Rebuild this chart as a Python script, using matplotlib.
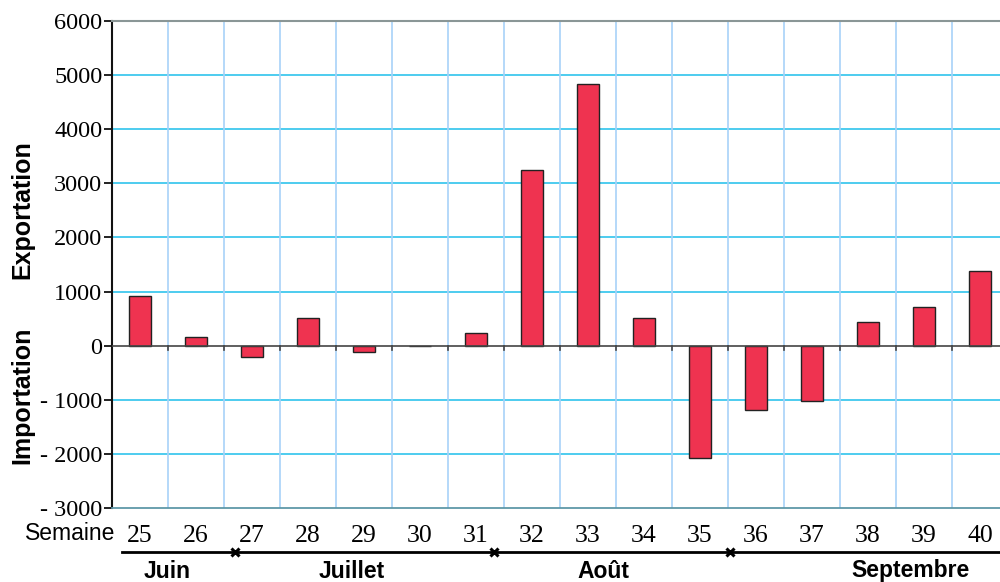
import matplotlib
matplotlib.use("Agg")
import matplotlib.pyplot as plt
import matplotlib.transforms as mtransforms
import numpy as np

# solde hebdomadaire (exportation > 0, importation < 0)
semaines = [25, 26, 27, 28, 29, 30, 31, 32, 33, 34, 35, 36, 37, 38, 39, 40]
solde = [920, 160, -210, 505, -115, 0, 240, 3240, 4830, 510,
         -2070, -1190, -1030, 435, 720, 1380]
mois = ["Juin", "Juillet", "Août", "Septembre"]
mois_pos = [0.48, 3.79, 8.27, 13.75]
separations = [1.7, 6.32, 10.54]
yticks = [-3000, -2000, -1000, 0, 1000, 2000, 3000, 4000, 5000, 6000]
ylabels = ["- 3000", "- 2000", "- 1000", "0", "1000", "2000", "3000",
           "4000", "5000", "6000"]

serif = "Liberation Serif"
sans = "Liberation Sans"

fig = plt.figure(figsize=(10, 5.82), dpi=100)
ax = fig.add_axes([0.112, 0.1271, 0.888, 0.8368])

x = np.arange(len(semaines))
ax.bar(x, solde, width=0.4, color="#ef3350", edgecolor="#222222",
       linewidth=1.0, zorder=3)

ax.set_xlim(-0.5, -0.5 + 888 / 56)
ax.set_ylim(-3000, 6000)

# grille
for v in yticks[1:-1]:
    if v != 0:
        ax.axhline(v, color="#3fc8ee", lw=1.3, zorder=1)
for b in np.arange(0.5, len(semaines), 1.0):
    ax.axvline(b, color="#a8d2f8", lw=1.2, zorder=1)
ax.axhline(0, color="#444444", lw=1.2, zorder=4)

# petits traits sous l'axe zero
for b in np.arange(0.5, len(semaines), 1.0):
    ax.plot([b, b], [0, -80], color="#444444", lw=1.2, zorder=4)

ax.spines["right"].set_visible(False)
ax.spines["top"].set_color("#8a9696")
ax.spines["top"].set_linewidth(1.5)
ax.spines["bottom"].set_color("#5f98a8")
ax.spines["bottom"].set_linewidth(1.3)
ax.spines["left"].set_color("#111111")
ax.spines["left"].set_linewidth(1.5)

ax.set_yticks(yticks)
ax.set_yticklabels(ylabels, fontfamily=serif, fontsize=17.5)
ax.tick_params(axis="y", length=6, width=1.3, pad=1, color="#111111")
ax.set_xticks([])

tr = mtransforms.blended_transform_factory(ax.transData, fig.transFigure)
for xi, s in zip(x, semaines):
    ax.text(xi, 1 - 536 / 582, str(s), transform=tr, ha="center",
            va="center", fontfamily=serif, fontsize=18.5)
fig.text(0.070, 1 - 533 / 582, "Semaine", ha="center", va="center",
         fontfamily=sans, fontsize=16.5)

# ligne des mois
y_line = 1 - 552 / 582
ax.plot([-0.32, 16], [y_line, y_line], transform=tr, color="black",
        lw=2, clip_on=False)
ax.plot(separations, [y_line] * len(separations), transform=tr,
        ls="none", marker="x", ms=6, mew=2.2, color="black", clip_on=False)
for p, m in zip(mois_pos, mois):
    ax.text(p, 1 - 571 / 582, m, transform=tr, ha="center", va="center",
            fontfamily=sans, fontweight="bold", fontsize=16.5)

fig.text(0.022, 1 - 210 / 582, "Exportation", rotation=90, ha="center",
         va="center", fontfamily=sans, fontweight="bold", fontsize=18)
fig.text(0.022, 1 - 395 / 582, "Importation", rotation=90, ha="center",
         va="center", fontfamily=sans, fontweight="bold", fontsize=18)

fig.savefig("out.png", dpi=100)
